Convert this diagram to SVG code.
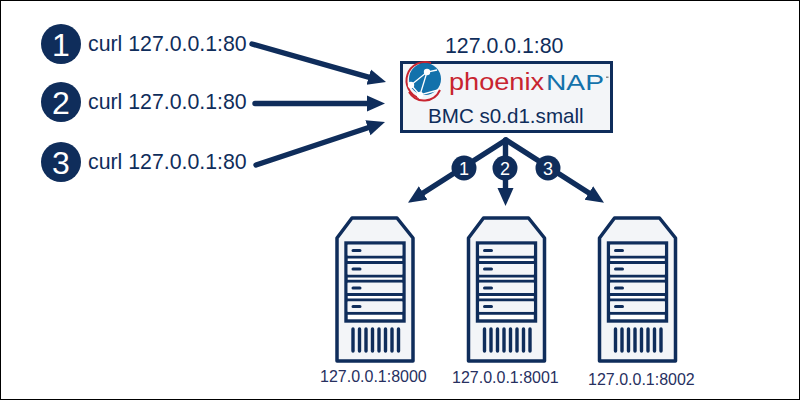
<svg xmlns="http://www.w3.org/2000/svg" width="800" height="400" viewBox="0 0 800 400">
<style>
text{font-family:"Liberation Sans",Arial,sans-serif;fill:#0f2d5b}
.cmd{font-size:21.300px}
.addr{font-size:16px;fill:#27305f}
.big{fill:#0f2d5b}
.num{fill:#fff;text-anchor:middle}
.n1{font-size:32px}
.n2{font-size:18px}
.conn{fill:none;stroke:#0f2d5b;stroke-width:5.400;stroke-linecap:round}
.b{fill:#f3f5f8;stroke:#0f2d5b;stroke-width:3.500;stroke-linejoin:round}
.s{stroke:#0f2d5b;stroke-width:3;fill:none}
.v{stroke:#0f2d5b;stroke-width:3.400;stroke-linecap:round;fill:none}
.d{stroke:#0f2d5b;stroke-width:3;stroke-linecap:round;fill:none}
</style>
<defs>
<marker id="arrow" markerUnits="userSpaceOnUse" markerWidth="22" markerHeight="22" refX="8" refY="11" orient="auto">
<path d="M0 3L18 11L0 19Z" fill="#0f2d5b"/>
</marker>
<g id="server">
<path class="b" d="M352 218H397L413 238V361H337V238Z"/>
<rect x="346" y="243" width="58" height="78" fill="#fff" stroke="#0f2d5b" stroke-width="3.400"/>
<path class="s" d="M346 257H404M346 262.500H404M346 276H404M346 281.200H404M346 294.500H404M346 300H404M346 313.200H404"/>
<path d="M347.700 244.700H402.300V255.500H347.700ZM347.700 264H402.300V274.500H347.700ZM347.700 282.700H402.300V293H347.700ZM347.700 301.500H402.300V311.700H347.700Z" fill="#f3f5f8"/>
<path class="d" d="M353 250.500H360M353 269H360M353 288H360M353 306.500H360"/>
<path class="v" d="M353 329V351M359.500 329V351M366 329V351M372.500 329V351M379 329V351M385.500 329V351M392 329V351M398.500 329V351"/>
</g>
</defs>
<rect x="0.500" y="0.500" width="799" height="399" fill="#fff" stroke="#000" stroke-width="1"/>
<g id="connectors">
<path class="conn" marker-end="url(#arrow)" d="M252 44L376.400 79.300"/>
<path class="conn" marker-end="url(#arrow)" d="M255 103.500H375"/>
<path class="conn" marker-end="url(#arrow)" d="M256 165L375.500 125.200"/>
<path class="conn" marker-end="url(#arrow)" d="M506 140L416.400 197.300"/>
<path class="conn" marker-end="url(#arrow)" d="M505.500 140V196"/>
<path class="conn" marker-end="url(#arrow)" d="M506 140L595.600 197.300"/>
</g>
<g id="request-1"><circle class="big" cx="61" cy="44" r="20"/><text class="num n1" x="61" y="56">1</text><text class="cmd" x="88" y="51">curl 127.0.0.1:80</text></g>
<g id="request-2"><circle class="big" cx="61" cy="102" r="20"/><text class="num n1" x="61" y="114">2</text><text class="cmd" x="88" y="109">curl 127.0.0.1:80</text></g>
<g id="request-3"><circle class="big" cx="61" cy="162" r="20"/><text class="num n1" x="61" y="174">3</text><text class="cmd" x="88" y="169">curl 127.0.0.1:80</text></g>
<g id="bmc">
<text class="cmd" x="445" y="53">127.0.0.1:80</text>
<rect x="401.500" y="62.500" width="210" height="69" fill="#f3f5f8" stroke="#0f2d5b" stroke-width="3"/>
<path d="M419 98A17.500 17.500 0 0 1 431 63" fill="none" stroke="#c8242f" stroke-width="2"/>
<path d="M409 92A17.500 17.500 0 0 0 440 90" fill="none" stroke="#c8242f" stroke-width="2"/>
<circle cx="425" cy="79" r="16" fill="#1271ab"/>
<path d="M411 85L427 72L437 70M411 85L420 95L438 90M427 72L420 95" fill="none" stroke="#fff" stroke-width="1.300"/>
<circle cx="427" cy="72" r="3.200" fill="#fff"/><circle cx="411" cy="85" r="3.200" fill="#fff"/><circle cx="420" cy="95" r="3.200" fill="#fff"/>
<text x="449" y="90" font-size="23.500" textLength="95" lengthAdjust="spacingAndGlyphs" style="fill:#c8242f">phoenix</text>
<text x="546" y="90" font-size="22" textLength="58" lengthAdjust="spacingAndGlyphs" style="fill:#1472ab">NAP</text>
<rect x="606" y="76.500" width="2.500" height="1.500" fill="#888"/>
<text x="428" y="123" font-size="20.600">BMC s0.d1.small</text>
</g>
<g id="route-1"><circle class="big" cx="464" cy="168" r="12.500"/><text class="num n2" x="464" y="174.500">1</text></g>
<g id="route-2"><circle class="big" cx="505" cy="168" r="12.500"/><text class="num n2" x="505" y="174.500">2</text></g>
<g id="route-3"><circle class="big" cx="548" cy="168" r="12.500"/><text class="num n2" x="548" y="174.500">3</text></g>
<g id="server-8000"><use href="#server"/><text class="addr" x="320" y="382">127.0.0.1:8000</text></g>
<g id="server-8001"><use href="#server" x="131.500"/><text class="addr" x="452" y="383">127.0.0.1:8001</text></g>
<g id="server-8002"><use href="#server" x="262.500"/><text class="addr" x="588" y="385">127.0.0.1:8002</text></g>
</svg>
